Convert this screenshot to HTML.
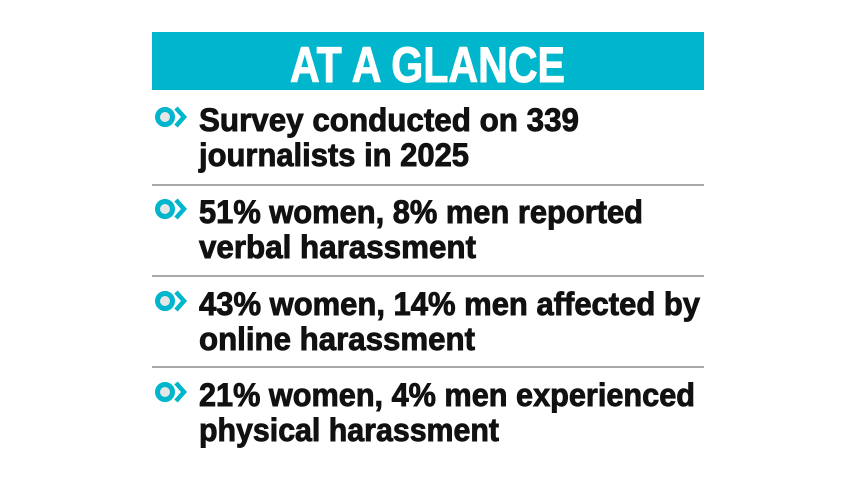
<!DOCTYPE html>
<html><head><style>html,body{margin:0;padding:0;background:#fff;}svg{display:block}</style></head>
<body>
<svg width="857" height="482" xmlns="http://www.w3.org/2000/svg" font-family="Liberation Sans, sans-serif" font-weight="bold">
<rect x="152" y="32" width="552" height="58" fill="#00b6cc"/>
<text x="290" y="82" font-size="50" fill="#fff" stroke="#fff" stroke-width="1" textLength="275" lengthAdjust="spacingAndGlyphs">AT A GLANCE</text>
<g fill="#111" stroke="#111" stroke-width="0.9" font-size="32">
<text x="199" y="131" textLength="380" lengthAdjust="spacingAndGlyphs">Survey conducted on 339</text>
<text x="199" y="166" textLength="270" lengthAdjust="spacingAndGlyphs">journalists in 2025</text>
<text x="199" y="223" textLength="444" lengthAdjust="spacingAndGlyphs">51% women, 8% men reported</text>
<text x="199" y="258" textLength="277" lengthAdjust="spacingAndGlyphs">verbal harassment</text>
<text x="199" y="315" textLength="501" lengthAdjust="spacingAndGlyphs">43% women, 14% men affected by</text>
<text x="199" y="350" textLength="276" lengthAdjust="spacingAndGlyphs">online harassment</text>
<text x="199" y="406" textLength="496" lengthAdjust="spacingAndGlyphs">21% women, 4% men experienced</text>
<text x="199" y="441" textLength="300" lengthAdjust="spacingAndGlyphs">physical harassment</text>
</g>
<g stroke="#a8a8a8" stroke-width="2">
<line x1="152" y1="185" x2="704" y2="185"/>
<line x1="152" y1="276" x2="704" y2="276"/>
<line x1="152" y1="367" x2="704" y2="367"/>
</g>
<g id="ic">
<circle cx="165" cy="117" r="7.5" fill="#e6e6e6" stroke="#00b6cc" stroke-width="5"/>
<path d="M176 108 L184 117 L176 126" fill="none" stroke="#00b6cc" stroke-width="4.5"/>
</g>
<use href="#ic" y="92"/>
<use href="#ic" y="184"/>
<use href="#ic" y="275"/>
</svg>
</body></html>
